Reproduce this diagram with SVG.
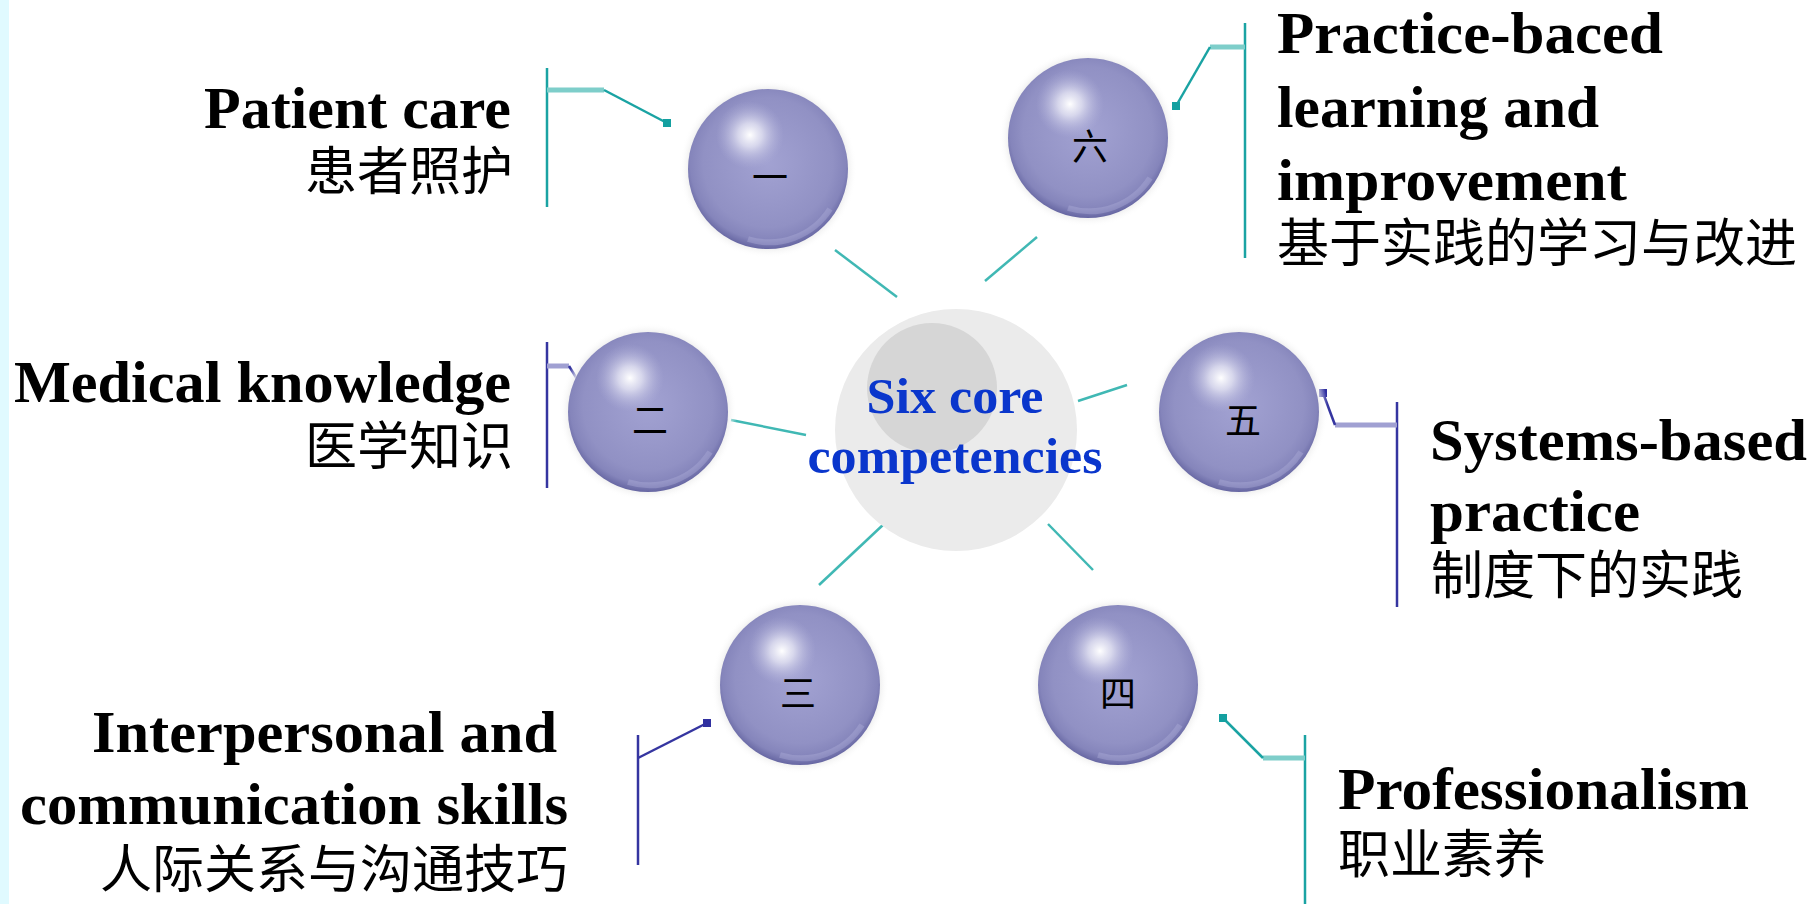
<svg xmlns="http://www.w3.org/2000/svg" xmlns:xlink="http://www.w3.org/1999/xlink" width="1813" height="904" viewBox="0 0 1813 904">
<style>
.en{font-family:"Liberation Serif","Times New Roman",serif;font-weight:bold;font-size:59px;fill:#000}
.zh{font-family:"Noto Sans CJK SC","Noto Sans",sans-serif;font-size:52px;fill:#000}
.num{font-family:"Noto Sans CJK SC","Noto Sans",sans-serif;font-size:36px;fill:#000;text-anchor:middle}
.ctr{font-family:"Liberation Serif","Times New Roman",serif;font-weight:bold;font-size:50px;fill:#0A36CC;text-anchor:middle}
.spoke{stroke:#40B8B4;stroke-width:2.5;fill:none}
.tv{stroke:#1AA3A3;stroke-width:2.5;fill:none}
.th{stroke:#7ECECA;stroke-width:5;fill:none}
.bv{stroke:#3535A0;stroke-width:2.5;fill:none}
.bh{stroke:#A0A0D2;stroke-width:5;fill:none}
.tdot{fill:#14A0A0}
.bdot{fill:#3030A0}
</style>
<defs>
<radialGradient id="base" cx="50%" cy="46%" r="54%">
<stop offset="0" stop-color="#A2A2D2"/>
<stop offset="0.75" stop-color="#9191C4"/>
<stop offset="0.9" stop-color="#8585BB"/>
<stop offset="1" stop-color="#6666A2"/>
</radialGradient>
<radialGradient id="hl">
<stop offset="0" stop-color="#FFFFFF" stop-opacity="1"/>
<stop offset="0.35" stop-color="#E6E6F4" stop-opacity="0.8"/>
<stop offset="1" stop-color="#B4B4DC" stop-opacity="0"/>
</radialGradient>
<radialGradient id="halo">
<stop offset="0.88" stop-color="#EBEBEB" stop-opacity="1"/>
<stop offset="1" stop-color="#FFFFFF" stop-opacity="0"/>
</radialGradient>
<g id="sphere">
<circle r="89" fill="url(#halo)"/>
<circle r="80" fill="url(#base)"/>
<path d="M 62 40 A 72 72 0 0 1 -20 70" stroke="#B0B0DA" stroke-width="6" fill="none" opacity="0.4"/>
<circle cx="-18" cy="-34" r="34" fill="url(#hl)"/>
</g>
</defs>
<rect width="1813" height="904" fill="#FFFFFF"/>
<rect width="9" height="904" fill="#E0FAFF"/>

<g id="connectors">
<line class="spoke" x1="835" y1="250" x2="897" y2="297"/>
<line class="spoke" x1="1037" y1="237" x2="985" y2="281"/>
<line class="spoke" x1="731" y1="420" x2="806" y2="435"/>
<line class="spoke" x1="1078" y1="401" x2="1127" y2="385"/>
<line class="spoke" x1="819" y1="585" x2="885" y2="523"/>
<line class="spoke" x1="1048" y1="524" x2="1093" y2="570"/>

<line class="tv" x1="547" y1="68" x2="547" y2="207"/>
<line class="th" x1="547" y1="90" x2="604" y2="90"/>
<line class="tv" x1="604" y1="90" x2="667" y2="123"/>
<rect class="tdot" x="663" y="119" width="8" height="8"/>

<line class="bv" x1="547" y1="342" x2="547" y2="488"/>
<line class="bh" x1="547" y1="366" x2="569" y2="366"/>
<line class="bv" x1="569" y1="366" x2="590" y2="400"/>
<rect class="bdot" x="586" y="396" width="8" height="8"/>

<line class="bv" x1="638" y1="735" x2="638" y2="865"/>
<line class="bv" x1="638" y1="758" x2="707" y2="723"/>
<rect class="bdot" x="703" y="719" width="8" height="8"/>

<line class="tv" x1="1305" y1="735" x2="1305" y2="904"/>
<line class="th" x1="1263" y1="758" x2="1305" y2="758"/>
<line class="tv" x1="1263" y1="758" x2="1223" y2="718"/>
<rect class="tdot" x="1219" y="714" width="8" height="8"/>

<line class="bv" x1="1397" y1="402" x2="1397" y2="607"/>
<line class="bh" x1="1335" y1="425" x2="1397" y2="425"/>
<line class="bv" x1="1335" y1="425" x2="1323" y2="393"/>
<rect class="bdot" x="1319" y="389" width="8" height="8"/>

<line class="tv" x1="1245" y1="23" x2="1245" y2="258"/>
<line class="th" x1="1210" y1="47" x2="1245" y2="47"/>
<line class="tv" x1="1210" y1="47" x2="1176" y2="106"/>
<rect class="tdot" x="1172" y="102" width="8" height="8"/>
</g>

<g id="center">
<circle cx="956" cy="430" r="121" fill="#EBEBEB"/>
<circle cx="932" cy="388" r="65" fill="#D6D6D6"/>
<text class="ctr" x="955" y="413" textLength="177" lengthAdjust="spacingAndGlyphs">Six core</text>
<text class="ctr" x="955" y="473" textLength="295" lengthAdjust="spacingAndGlyphs">competencies</text>
</g>

<g id="node1">
<use href="#sphere" x="768" y="169"/>
<text class="num" x="770" y="191">一</text>
<text class="en" x="511" y="128" text-anchor="end" textLength="307" lengthAdjust="spacingAndGlyphs">Patient care</text>
<text class="zh" x="513" y="190" text-anchor="end">患者照护</text>
</g>

<g id="node2">
<use href="#sphere" x="648" y="412"/>
<text class="num" x="650" y="434">二</text>
<text class="en" x="511" y="402" text-anchor="end" textLength="497" lengthAdjust="spacingAndGlyphs">Medical knowledge</text>
<text class="zh" x="513" y="465" text-anchor="end">医学知识</text>
</g>

<g id="node3">
<use href="#sphere" x="800" y="685"/>
<text class="num" x="798" y="707">三</text>
<text class="en" x="557" y="752" text-anchor="end" textLength="465" lengthAdjust="spacingAndGlyphs">Interpersonal and</text>
<text class="en" x="568" y="824" text-anchor="end" textLength="548" lengthAdjust="spacingAndGlyphs">communication skills</text>
<text class="zh" x="568" y="888" text-anchor="end">人际关系与沟通技巧</text>
</g>

<g id="node4">
<use href="#sphere" x="1118" y="685"/>
<text class="num" x="1118" y="707">四</text>
<text class="en" x="1338" y="809" textLength="411" lengthAdjust="spacingAndGlyphs">Professionalism</text>
<text class="zh" x="1338" y="873">职业素养</text>
</g>

<g id="node5">
<use href="#sphere" x="1239" y="412"/>
<text class="num" x="1243" y="434">五</text>
<text class="en" x="1430" y="460" textLength="377" lengthAdjust="spacingAndGlyphs">Systems-based</text>
<text class="en" x="1430" y="531" textLength="210" lengthAdjust="spacingAndGlyphs">practice</text>
<text class="zh" x="1431" y="594">制度下的实践</text>
</g>

<g id="node6">
<use href="#sphere" x="1088" y="138"/>
<text class="num" x="1090" y="160">六</text>
<text class="en" x="1277" y="53" textLength="386" lengthAdjust="spacingAndGlyphs">Practice-baced</text>
<text class="en" x="1277" y="127" textLength="322" lengthAdjust="spacingAndGlyphs">learning and</text>
<text class="en" x="1277" y="200" textLength="350" lengthAdjust="spacingAndGlyphs">improvement</text>
<text class="zh" x="1277" y="262">基于实践的学习与改进</text>
</g>
</svg>
